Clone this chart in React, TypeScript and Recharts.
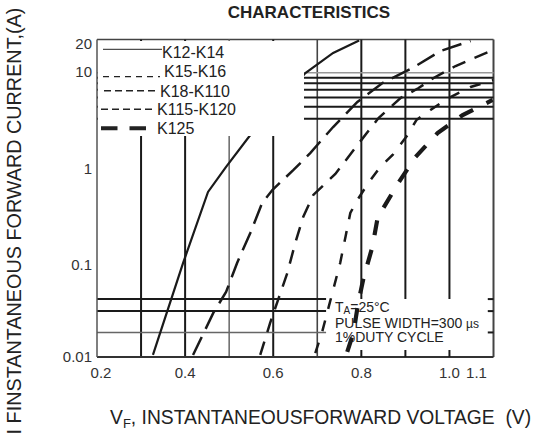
import React from 'react';
import { LineChart, Line, XAxis, YAxis, ReferenceLine, Legend, Customized } from 'recharts';

const FONT = '"Liberation Sans", Arial, Helvetica, sans-serif';
const INK = '#1a1a1a';
const TXT = '#222';

// Series: [forward voltage (V), forward current (A)]
const k12k14: [number, number][] = [[0.327, 0.0105], [0.3955, 0.095], [0.452, 0.52], [0.493, 0.946], [0.548, 2.03], [0.673, 8.97], [0.736, 14.5], [0.795, 19.5]];
const k15k16: [number, number][] = [[0.418, 0.0105], [0.464, 0.0287], [0.493, 0.0475], [0.518, 0.095], [0.548, 0.195], [0.575, 0.4], [0.598, 0.545], [0.646, 0.88], [0.684, 1.32], [0.736, 2.46], [0.791, 4.48], [0.848, 7.06], [0.916, 10.1], [0.98, 15.2], [1.048, 19.3]];
const k18k110: [number, number][] = [[0.5705, 0.0105], [0.593, 0.0226], [0.611, 0.0392], [0.632, 0.0748], [0.65, 0.153], [0.668, 0.286], [0.691, 0.484], [0.741, 0.8], [0.786, 1.49], [0.839, 3.05], [0.889, 4.93], [0.93, 6.26], [0.964, 7.96], [1.014, 10.6], [1.055, 12.8], [1.1, 15.6]];
const k115k120: [number, number][] = [[0.6955, 0.011], [0.711, 0.0182], [0.736, 0.0498], [0.752, 0.095], [0.764, 0.177], [0.775, 0.314], [0.791, 0.429], [0.816, 0.645], [0.843, 0.946], [0.871, 1.26], [0.905, 2.03], [0.925, 2.91], [0.957, 3.7], [0.998, 4.93], [1.048, 6.42], [1.1, 7.59]];
const k125: [number, number][] = [[0.768, 0.0113], [0.782, 0.0178], [0.793, 0.0365], [0.805, 0.0664], [0.825, 0.139], [0.839, 0.314], [0.85, 0.354], [0.884, 0.645], [0.923, 1.2], [0.973, 2.13], [1.03, 3.28], [1.098, 4.7]];

const seriesNames = ['K12-K14', 'K15-K16', 'K18-K110', 'K115-K120', 'K125'];
const seriesData = [k12k14, k15k16, k18k110, k115k120, k125];

const xTicks = [0.2, 0.4, 0.6, 0.8, 0.9, 1.0, 1.1];
const xTickLabels = ['0.2', '0.4', '0.6', '0.8', '', '1.0', '1.1'];
const yTicks = [0.01, 0.1, 1, 10, 20];
const yTickLabels = ['0.01', '0.1', '1', '10', '20'];

// grid lines (data coordinates)
const vGridFull = [0.3, 0.4, 0.5, 0.6, 0.7];
const vGridUpper = [0.8, 0.9, 1.0];
const hGridUpper = [3, 4, 5, 6, 7, 8, 9];
const hGridLower = [0.04, 0.03, 0.018];

const annotationLines = ['PULSE WIDTH=300 ', '1%DUTY CYCLE'];

// styles (kept apart from data)
const seriesStyles = [
  { width: 2.2, dash: undefined as string | undefined },
  { width: 2.5, dash: '20 9' },
  { width: 2.5, dash: '14 10' },
  { width: 2.5, dash: '11 12' },
  { width: 4.2, dash: '15 15' },
];
const legendStyles = [
  { lineY: 8.3, x1: 5, x2: 64, textX: 64, textY: 17.3, w: 1, dash: undefined as string | undefined },
  { lineY: 35.7, x1: 5, x2: 62, textX: 66, textY: 35.7, w: 1.3, dash: '6 5' },
  { lineY: 49.7, x1: 6, x2: 59, textX: 62, textY: 55.7, w: 1.5, dash: '7 4' },
  { lineY: 68.3, x1: 3, x2: 55, textX: 59, textY: 74, w: 1.5, dash: '7 4' },
  { lineY: 87.3, x1: 3, x2: 48, textX: 59, textY: 93, w: 4, dash: '16.5 12' },
];
const lightGrid: Record<string, { stroke: string; w: number }> = {
  '0.5': { stroke: '#666', w: 1.5 },
  '0.7': { stroke: '#444', w: 1.6 },
  '9': { stroke: '#999', w: 1.5 },
  '0.018': { stroke: '#666', w: 1.5 },
};
const gridStyle = (v: number) => lightGrid[String(v)] || { stroke: INK, w: 2 };

const XTick = (props: any) => {
  const { x, y, payload } = props;
  const v = payload.value;
  const idx = xTicks.indexOf(v);
  const label = xTickLabels[idx];
  const dx = v === 0.2 ? 4 : v === 1.1 ? -17 : 0;
  return (
    <g>
      {v >= 0.8 && v < 1.05 && <line x1={x} x2={x} y1={y} y2={y - 7} stroke={INK} strokeWidth={2} />}
      {label && (
        <text x={x + dx} y={y + 21} textAnchor="middle" fontSize={15} fontFamily={FONT} fill="#333">
          {label}
        </text>
      )}
    </g>
  );
};

const YTick = (props: any) => {
  const { x, y, payload } = props;
  const v = payload.value;
  const label = yTickLabels[yTicks.indexOf(v)];
  const dy = v === 0.01 ? 4.5 : 9;
  return (
    <text x={x - 5} y={y + dy} textAnchor="end" fontSize={15} fontFamily={FONT} fill="#333">
      {label}
    </text>
  );
};

const LegendBox = () => (
  <div style={{ width: 206, height: 95, background: '#fff' }}>
    <svg width={206} height={95} style={{ display: 'block' }}>
      {seriesNames.map((n, i) => {
        const s = legendStyles[i];
        return (
          <g key={n}>
            <line x1={s.x1} x2={s.x2} y1={s.lineY} y2={s.lineY} stroke={TXT} strokeWidth={s.w} strokeDasharray={s.dash} />
            <text x={s.textX} y={s.textY} fontSize={16} fontFamily={FONT} fill={TXT}>
              {n}
            </text>
          </g>
        );
      })}
    </svg>
  </div>
);

const Texts = () => (
  <g fontFamily={FONT} fill={TXT}>
    <text x={309} y={17.5} textAnchor="middle" fontSize={17} fontWeight="bold">
      CHARACTERISTICS
    </text>
    <text x={110} y={423.5} fontSize={19.3} style={{ whiteSpace: 'pre' }}>
      V<tspan fontSize={13} dy={4}>F</tspan>
      <tspan dy={-4}>, INSTANTANEOUSFORWARD VOLTAGE  (V)</tspan>
    </text>
    <text x={21} y={221} transform="rotate(-90 21 221)" textAnchor="middle" fontSize={19.8}>
      I FINSTANTANEOUS FORWARD CURRENT,(A)
    </text>
    <text x={335} y={311.5} fontSize={14}>
      T<tspan fontSize={10} dy={2}>A</tspan>
      <tspan dy={-2}>=25°C</tspan>
    </text>
    <text x={335} y={327.5} fontSize={14} style={{ whiteSpace: 'pre' }}>
      {annotationLines[0]}
      <tspan fontSize={12}>µs</tspan>
    </text>
    <text x={335} y={342} fontSize={14}>
      {annotationLines[1]}
    </text>
  </g>
);

export default function App() {
  return (
    <div style={{ position: 'absolute', left: 0, top: 0, width: 547, height: 442, background: '#fff' }}>
      <LineChart width={547} height={442} margin={{ top: 39.5, right: 53.5, bottom: 55, left: 37 }}>
        <XAxis
          type="number"
          dataKey="v"
          domain={[0.2, 1.1]}
          ticks={xTicks}
          interval={0}
          allowDataOverflow
          tick={<XTick />}
          tickLine={false}
          tickSize={0}
          tickMargin={0}
          height={30}
          axisLine={{ stroke: '#333', strokeWidth: 2 }}
        />
        <YAxis
          type="number"
          scale="log"
          domain={[0.01, 20]}
          ticks={yTicks}
          interval={0}
          allowDataOverflow
          tick={<YTick />}
          tickLine={false}
          tickSize={0}
          tickMargin={0}
          width={60}
          axisLine={{ stroke: '#555', strokeWidth: 1.5 }}
        />
        {/* frame */}
        <ReferenceLine segment={[{ x: 0.2, y: 20 }, { x: 1.1, y: 20 }]} stroke="#444" strokeWidth={1.5} ifOverflow="visible" />
        <ReferenceLine segment={[{ x: 1.1, y: 0.01 }, { x: 1.1, y: 20 }]} stroke="#444" strokeWidth={2} ifOverflow="visible" />
        {vGridFull.map((v) => (
          <ReferenceLine key={'vf' + v} segment={[{ x: v, y: 0.01 }, { x: v, y: 20 }]} stroke={gridStyle(v).stroke} strokeWidth={gridStyle(v).w} ifOverflow="visible" />
        ))}
        {vGridUpper.map((v) => (
          <ReferenceLine key={'vu' + v} segment={[{ x: v, y: 0.04 }, { x: v, y: 20 }]} stroke={INK} strokeWidth={2} ifOverflow="visible" />
        ))}
        {hGridUpper.map((h) => (
          <ReferenceLine key={'hu' + h} segment={[{ x: 0.2, y: h }, { x: 1.1, y: h }]} stroke={gridStyle(h).stroke} strokeWidth={gridStyle(h).w} ifOverflow="visible" />
        ))}
        {hGridLower.map((h) => (
          <ReferenceLine key={'hl' + h} segment={[{ x: 0.2, y: h }, { x: 0.72, y: h }]} stroke={gridStyle(h).stroke} strokeWidth={gridStyle(h).w} ifOverflow="visible" />
        ))}
        {hGridLower.map((h) => (
          <ReferenceLine key={'hr' + h} segment={[{ x: 1.087, y: h }, { x: 1.1, y: h }]} stroke={INK} strokeWidth={2} ifOverflow="visible" />
        ))}
        {seriesData.map((d, i) => (
          <Line
            key={seriesNames[i]}
            name={seriesNames[i]}
            data={d.map(([v, a]) => ({ v, a }))}
            dataKey="a"
            type="linear"
            stroke={INK}
            strokeWidth={seriesStyles[i].width}
            strokeDasharray={seriesStyles[i].dash}
            dot={false}
            activeDot={false}
            isAnimationActive={false}
          />
        ))}
        <Customized component={Texts} />
        <Legend
          layout="horizontal"
          verticalAlign="middle"
          align="center"
          content={LegendBox}
          wrapperStyle={{ left: 98, top: 41, width: 206, height: 95 }}
        />
      </LineChart>
    </div>
  );
}
